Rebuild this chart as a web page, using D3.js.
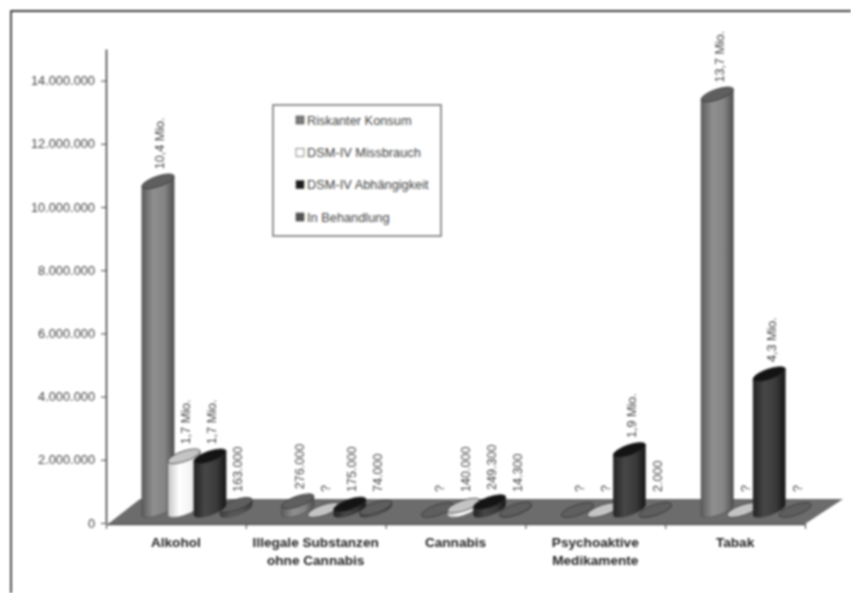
<!DOCTYPE html>
<html>
<head>
<meta charset="utf-8">
<script src="https://cdn.jsdelivr.net/npm/d3@7"></script>
<style>
  html, body { margin: 0; padding: 0; background: #fff; }
  svg { display: block; font-family: "Liberation Sans", Arial, sans-serif; }
  .blurred { filter: blur(0.8px); }
</style>
</head>
<body>
<div id="chart"></div>
<script>
// Values (null = "?" in the source, drawn as a flat disc)
const categories = ['Alkohol', 'Illegale Substanzen|ohne Cannabis', 'Cannabis', 'Psychoaktive|Medikamente', 'Tabak'];
const seriesNames = ['Riskanter Konsum', 'DSM-IV Missbrauch', 'DSM-IV Abhängigkeit', 'In Behandlung'];
const riskant = [10400000, 276000, null, null, 13150000];
const missbrauch = [1700000, null, 140000, null, null];
const abhaengig = [1700000, 175000, 249300, 1900000, 4300000];
const behandlung = [163000, 74000, 14300, 2000, null];
const riskantLabels = ['10,4 Mio.', '276.000', '?', '?', '13,7 Mio.'];
const missbrauchLabels = ['1,7 Mio.', '?', '140.000', '?', '?'];
const abhaengigLabels = ['1,7 Mio.', '175.000', '249.300', '1,9 Mio.', '4,3 Mio.'];
const behandlungLabels = ['163.000', '74.000', '14.300', '2.000', '?'];
const yTicks = [0, 2000000, 4000000, 6000000, 8000000, 10000000, 12000000, 14000000];

const width = 851;
const height = 593;
const depthX = 36;
const depthY = 25;
const baseLift = 13; // bars stand in the middle of the floor
const labelFloor = 492; // lowest start of a rotated value label

const seriesValues = [riskant, missbrauch, abhaengig, behandlung];
const seriesLabels = [riskantLabels, missbrauchLabels, abhaengigLabels, behandlungLabels];
const sideStops = [
  ['#5c5c5c', '#8f8f8f', '#858585', '#4e4e4e'],
  ['#c4c4c4', '#ffffff', '#f4f4f4', '#a8a8a8'],
  ['#222222', '#474747', '#3a3a3a', '#161616'],
  ['#3c3c3c', '#5a5a5a', '#555555', '#333333']
];
const topFill = ['#5f5f5f', '#c4c4c4', '#141414', '#5e5e5e'];
const legendFill = ['#7c7c7c', '#ffffff', '#1c1c1c', '#555555'];
const drawOrder = [0, 1, 3, 2];

const svg = d3.select('#chart').append('svg')
  .attr('class', 'blurred')
  .attr('width', width)
  .attr('height', height);

const y = d3.scaleLinear().domain([0, 15000000]).range([523, 49]);
const xEdge = d3.scaleLinear().domain([0, categories.length]).range([106, 805]);
const xGroup = d3.scaleBand().domain(categories).range([106, 805]);
const xBar = d3.scalePoint().domain(d3.range(4)).range([52, 130]);

const germanFormat = d3.formatLocale({ decimal: ',', thousands: '.', grouping: [3], currency: ['', ' €'] }).format(',d');

// Outer frame, only top and left are visible in the source
svg.append('path')
  .attr('d', `M${width},11H11V${height}`)
  .attr('fill', 'none')
  .attr('stroke', '#000')
  .attr('stroke-width', 1.4);

// Gradients for the cylinder sides
const defs = svg.append('defs');
sideStops.forEach((stops, i) => {
  const grad = defs.append('linearGradient').attr('id', `side-${i}`);
  [0, 0.35, 0.7, 1].forEach((o, j) => {
    grad.append('stop').attr('offset', o).attr('stop-color', stops[j]);
  });
});

// Floor
const floorY = y(0) + 1;
svg.append('path')
  .attr('d', `M${xEdge(0) + 2},${floorY}L${xEdge(5)},${floorY}L${xEdge(5) + depthX + 2},${floorY - depthY}L${xEdge(0) + depthX - 2},${floorY - depthY}Z`)
  .attr('fill', '#6c6c6c');

// Axes
const yAxis = svg.append('g')
  .attr('transform', `translate(${xEdge(0)},0)`)
  .call(d3.axisLeft(y).tickValues(yTicks).tickFormat(germanFormat).tickSize(5).tickPadding(6).tickSizeOuter(0));
yAxis.select('.domain').attr('stroke', '#444').attr('stroke-width', 1.6);
yAxis.selectAll('line').attr('stroke', '#444');
yAxis.selectAll('text').attr('font-size', 12.8).attr('fill', '#444').attr('font-family', 'inherit');

const xAxis = svg.append('g')
  .attr('transform', `translate(0,${floorY})`)
  .call(d3.axisBottom(xEdge).tickValues(d3.range(6)).tickFormat('').tickSize(5).tickSizeOuter(0));
xAxis.select('.domain').attr('stroke', '#555').attr('stroke-width', 1.4);
xAxis.selectAll('line').attr('stroke', '#444');

// Category labels
categories.forEach(c => {
  const lines = c.split('|');
  const text = svg.append('text')
    .attr('x', xGroup(c) + xGroup.bandwidth() / 2)
    .attr('y', 547)
    .attr('text-anchor', 'middle')
    .attr('font-size', 13.6)
    .attr('font-weight', 'bold')
    .attr('fill', '#222');
  lines.forEach((line, i) => {
    text.append('tspan')
      .attr('x', xGroup(c) + xGroup.bandwidth() / 2)
      .attr('dy', i ? 18 : 0)
      .text(line);
  });
});

// Oblique cylinder: ellipse tilted up to the right
const rx = 17;
const ry = 5.2;
const tilt = -19;
const rad = tilt * Math.PI / 180;
const tAtEdge = Math.atan2(-ry * Math.sin(rad), rx * Math.cos(rad));
const edgeX = rx * Math.cos(tAtEdge) * Math.cos(rad) - ry * Math.sin(tAtEdge) * Math.sin(rad);
const edgeY = rx * Math.cos(tAtEdge) * Math.sin(rad) + ry * Math.sin(tAtEdge) * Math.cos(rad);

function drawCylinder(g, cx, value, s) {
  const yBase = y(0) - baseLift;
  const yTop = y(value || 0) - baseLift;
  if (value) {
    g.append('path')
      .attr('d', `M${cx - edgeX},${yTop - edgeY}L${cx - edgeX},${yBase - edgeY}A${rx},${ry} ${tilt} 0 0 ${cx + edgeX},${yBase + edgeY}L${cx + edgeX},${yTop + edgeY}Z`)
      .attr('fill', `url(#side-${s})`)
      .attr('stroke', '#444')
      .attr('stroke-width', 0.5);
  }
  g.append('ellipse')
    .attr('cx', 0)
    .attr('cy', 0)
    .attr('rx', rx)
    .attr('ry', ry)
    .attr('transform', `translate(${cx},${yTop}) rotate(${tilt})`)
    .attr('fill', topFill[s])
    .attr('stroke', '#333')
    .attr('stroke-width', 0.7);
}

categories.forEach((c, i) => {
  const g = svg.append('g').attr('class', 'group');
  drawOrder.forEach(s => {
    drawCylinder(g, xGroup(c) + xBar(s), seriesValues[s][i], s);
  });
});

// Value labels, rotated
categories.forEach((c, i) => {
  seriesNames.forEach((name, s) => {
    const lx = xGroup(c) + xBar(s) + 2;
    const ly = Math.min(y(seriesValues[s][i] || 0) - baseLift - 12, labelFloor);
    svg.append('text')
      .attr('transform', `translate(${lx},${ly}) rotate(-90)`)
      .attr('dy', '0.35em')
      .attr('font-size', 12.6)
      .attr('fill', '#444')
      .text(seriesLabels[s][i]);
  });
});

// Legend
const legend = svg.append('g').attr('transform', 'translate(273,105)');
legend.append('rect')
  .attr('width', 168)
  .attr('height', 131)
  .attr('fill', '#fff')
  .attr('stroke', '#888')
  .attr('stroke-width', 1.8);
const legendRow = d3.scalePoint().domain(seriesNames).range([15, 112]);
seriesNames.forEach((name, s) => {
  legend.append('rect')
    .attr('x', 23)
    .attr('y', legendRow(name) - 4)
    .attr('width', 8)
    .attr('height', 8)
    .attr('fill', legendFill[s])
    .attr('stroke', '#444')
    .attr('stroke-width', 0.6);
  legend.append('text')
    .attr('x', 34)
    .attr('y', legendRow(name) + 4.5)
    .attr('font-size', 12.8)
    .attr('fill', '#444')
    .text(name);
});
</script>
</body>
</html>
